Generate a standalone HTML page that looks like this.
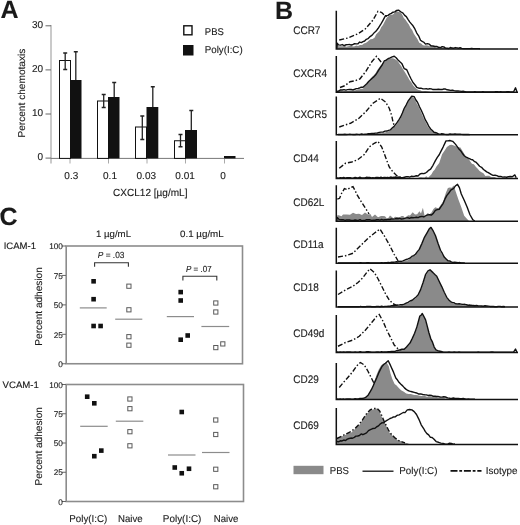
<!DOCTYPE html>
<html><head><meta charset="utf-8"><style>
html,body{margin:0;padding:0;background:#fff;}
body{width:520px;height:525px;overflow:hidden;}
svg{display:block;filter:blur(0.35px);}
text{font-family:"Liberation Sans", sans-serif;fill:#1a1a1a;stroke:#1a1a1a;stroke-width:0.12px;text-rendering:geometricPrecision;}
</style></head><body>
<svg width="520" height="525" viewBox="0 0 520 525">
<text x="0.4" y="18.4" font-size="25" font-weight="bold">A</text>
<line x1="51" y1="25" x2="51" y2="163.5" stroke="#b8b8b8" stroke-width="1.5"/>
<line x1="45.5" y1="158.1" x2="51" y2="158.1" stroke="#666" stroke-width="1"/>
<text x="43" y="159.9" font-size="10" text-anchor="end">0</text>
<line x1="45.5" y1="114" x2="51" y2="114" stroke="#666" stroke-width="1"/>
<text x="43" y="115.8" font-size="10" text-anchor="end">10</text>
<line x1="45.5" y1="69.9" x2="51" y2="69.9" stroke="#666" stroke-width="1"/>
<text x="43" y="71.7" font-size="10" text-anchor="end">20</text>
<line x1="45.5" y1="25.8" x2="51" y2="25.8" stroke="#666" stroke-width="1"/>
<text x="43" y="27.6" font-size="10" text-anchor="end">30</text>
<line x1="51" y1="158.4" x2="244" y2="158.4" stroke="#777" stroke-width="1"/>
<line x1="70" y1="158.5" x2="70" y2="163.5" stroke="#aaa" stroke-width="1"/>
<text x="71.3" y="178.7" font-size="10" text-anchor="middle">0.3</text>
<line x1="108.5" y1="158.5" x2="108.5" y2="163.5" stroke="#aaa" stroke-width="1"/>
<text x="110" y="178.7" font-size="10" text-anchor="middle">0.1</text>
<line x1="147" y1="158.5" x2="147" y2="163.5" stroke="#aaa" stroke-width="1"/>
<text x="146.3" y="178.7" font-size="10" text-anchor="middle">0.03</text>
<line x1="185.5" y1="158.5" x2="185.5" y2="163.5" stroke="#aaa" stroke-width="1"/>
<text x="185.1" y="178.7" font-size="10" text-anchor="middle">0.01</text>
<line x1="224.5" y1="158.5" x2="224.5" y2="163.5" stroke="#aaa" stroke-width="1"/>
<text x="223" y="178.7" font-size="10" text-anchor="middle">0</text>
<text x="113" y="195.8" font-size="10.3" textLength="74.5" lengthAdjust="spacingAndGlyphs">CXCL12 [µg/mL]</text>
<text transform="translate(25.1,137.6) rotate(-90)" font-size="10" textLength="89" lengthAdjust="spacingAndGlyphs">Percent chemotaxis</text>
<rect x="59.5" y="60.5" width="11" height="97.9" fill="#fff" stroke="#111" stroke-width="1"/>
<rect x="70" y="80" width="11.5" height="78.4" fill="#111"/>
<path d="M65.2 53V69.5M63.2 53H67.2M63.2 69.5H67.2" stroke="#222" stroke-width="1.3" fill="none"/>
<path d="M75.8 51.75V80M73.8 51.75H77.8" stroke="#222" stroke-width="1.3" fill="none"/>
<rect x="97.5" y="101" width="11" height="57.4" fill="#fff" stroke="#111" stroke-width="1"/>
<rect x="108" y="97" width="11.5" height="61.4" fill="#111"/>
<path d="M103.7 94.5V107.5M101.7 94.5H105.7M101.7 107.5H105.7" stroke="#222" stroke-width="1.3" fill="none"/>
<path d="M114.2 82.5V97M112.2 82.5H116.2" stroke="#222" stroke-width="1.3" fill="none"/>
<rect x="135.5" y="127" width="11" height="31.4" fill="#fff" stroke="#111" stroke-width="1"/>
<rect x="146.5" y="107" width="11.8" height="51.4" fill="#111"/>
<path d="M142.3 116V139.5M140.3 116H144.3M140.3 139.5H144.3" stroke="#222" stroke-width="1.3" fill="none"/>
<path d="M152.8 86.75V107M150.8 86.75H154.8" stroke="#222" stroke-width="1.3" fill="none"/>
<rect x="174.5" y="140.75" width="11" height="17.65" fill="#fff" stroke="#111" stroke-width="1"/>
<rect x="185" y="130" width="12" height="28.4" fill="#111"/>
<path d="M180.5 134.5V146.75M178.5 134.5H182.5M178.5 146.75H182.5" stroke="#222" stroke-width="1.3" fill="none"/>
<path d="M191.3 110.5V130M189.3 110.5H193.3" stroke="#222" stroke-width="1.3" fill="none"/>
<rect x="224" y="156" width="11.5" height="2.4" fill="#111"/>
<rect x="183.8" y="25.8" width="8.2" height="9" fill="#fff" stroke="#111" stroke-width="1.4"/>
<rect x="183" y="45" width="10.5" height="10.5" fill="#111"/>
<text x="204.8" y="35" font-size="9.8" textLength="19" lengthAdjust="spacingAndGlyphs">PBS</text>
<text x="204.7" y="52.6" font-size="10" textLength="38" lengthAdjust="spacingAndGlyphs">Poly(I:C)</text>
<text x="-0.4" y="224.5" font-size="25" font-weight="bold">C</text>
<text x="96" y="237.4" font-size="9.4" textLength="35" lengthAdjust="spacingAndGlyphs">1 µg/mL</text>
<text x="180" y="237.4" font-size="9.4" textLength="43.7" lengthAdjust="spacingAndGlyphs">0.1 µg/mL</text>
<rect x="66.2" y="246" width="176.3" height="117.75" fill="none" stroke="#8c8c8c" stroke-width="1.6"/>
<line x1="61.8" y1="246" x2="66" y2="246" stroke="#666" stroke-width="1"/>
<text x="62.9" y="249.2" font-size="8.2" text-anchor="end">100</text>
<line x1="61.8" y1="275.44" x2="66" y2="275.44" stroke="#666" stroke-width="1"/>
<text x="62.9" y="278.64" font-size="8.2" text-anchor="end">75</text>
<line x1="61.8" y1="304.88" x2="66" y2="304.88" stroke="#666" stroke-width="1"/>
<text x="62.9" y="308.07" font-size="8.2" text-anchor="end">50</text>
<line x1="61.8" y1="334.31" x2="66" y2="334.31" stroke="#666" stroke-width="1"/>
<text x="62.9" y="337.51" font-size="8.2" text-anchor="end">25</text>
<line x1="61.8" y1="363.75" x2="66" y2="363.75" stroke="#666" stroke-width="1"/>
<text x="62.9" y="366.95" font-size="8.2" text-anchor="end">0</text>
<text x="3.7" y="249.3" font-size="9.3" textLength="32.4" lengthAdjust="spacingAndGlyphs">ICAM-1</text>
<text transform="translate(42,306.4) rotate(-90)" font-size="10" text-anchor="middle" textLength="78.5" lengthAdjust="spacingAndGlyphs">Percent adhesion</text>
<rect x="66.2" y="384.5" width="177.3" height="117" fill="none" stroke="#8c8c8c" stroke-width="1.6"/>
<line x1="61.8" y1="384.5" x2="66" y2="384.5" stroke="#666" stroke-width="1"/>
<text x="62.9" y="387.7" font-size="8.2" text-anchor="end">100</text>
<line x1="61.8" y1="413.75" x2="66" y2="413.75" stroke="#666" stroke-width="1"/>
<text x="62.9" y="416.95" font-size="8.2" text-anchor="end">75</text>
<line x1="61.8" y1="443" x2="66" y2="443" stroke="#666" stroke-width="1"/>
<text x="62.9" y="446.2" font-size="8.2" text-anchor="end">50</text>
<line x1="61.8" y1="472.25" x2="66" y2="472.25" stroke="#666" stroke-width="1"/>
<text x="62.9" y="475.45" font-size="8.2" text-anchor="end">25</text>
<line x1="61.8" y1="501.5" x2="66" y2="501.5" stroke="#666" stroke-width="1"/>
<text x="62.9" y="504.7" font-size="8.2" text-anchor="end">0</text>
<text x="2.5" y="388.3" font-size="9.3" textLength="36.4" lengthAdjust="spacingAndGlyphs">VCAM-1</text>
<text transform="translate(42,446.3) rotate(-90)" font-size="10" text-anchor="middle" textLength="78.5" lengthAdjust="spacingAndGlyphs">Percent adhesion</text>
<rect x="91.3" y="279" width="4.6" height="4.6" fill="#111"/>
<rect x="91.3" y="296.9" width="4.6" height="4.6" fill="#111"/>
<rect x="91.3" y="323.7" width="4.6" height="4.6" fill="#111"/>
<rect x="98.3" y="323.7" width="4.6" height="4.6" fill="#111"/>
<rect x="126.8" y="284.1" width="4.2" height="4.2" fill="#fff" stroke="#5a5a5a" stroke-width="1"/>
<rect x="126.8" y="307.7" width="4.2" height="4.2" fill="#fff" stroke="#5a5a5a" stroke-width="1"/>
<rect x="126.8" y="334.6" width="4.2" height="4.2" fill="#fff" stroke="#5a5a5a" stroke-width="1"/>
<rect x="126.8" y="343.1" width="4.2" height="4.2" fill="#fff" stroke="#5a5a5a" stroke-width="1"/>
<line x1="79.8" y1="307.9" x2="106.7" y2="307.9" stroke="#8c8c8c" stroke-width="1.2"/>
<line x1="115.2" y1="319.2" x2="142.3" y2="319.2" stroke="#8c8c8c" stroke-width="1.2"/>
<rect x="178.4" y="289.8" width="4.6" height="4.6" fill="#111"/>
<rect x="178.4" y="298.2" width="4.6" height="4.6" fill="#111"/>
<rect x="178.4" y="337.4" width="4.6" height="4.6" fill="#111"/>
<rect x="185.4" y="333.2" width="4.6" height="4.6" fill="#111"/>
<rect x="213.7" y="300.9" width="4.2" height="4.2" fill="#fff" stroke="#5a5a5a" stroke-width="1"/>
<rect x="213.7" y="309.9" width="4.2" height="4.2" fill="#fff" stroke="#5a5a5a" stroke-width="1"/>
<rect x="213.7" y="345.5" width="4.2" height="4.2" fill="#fff" stroke="#5a5a5a" stroke-width="1"/>
<rect x="220.7" y="341.8" width="4.2" height="4.2" fill="#fff" stroke="#5a5a5a" stroke-width="1"/>
<line x1="166.8" y1="316.6" x2="194" y2="316.6" stroke="#8c8c8c" stroke-width="1.2"/>
<line x1="201.4" y1="326.5" x2="229.2" y2="326.5" stroke="#8c8c8c" stroke-width="1.2"/>
<text x="97.8" y="258.3" font-size="8.8" textLength="26.6" lengthAdjust="spacingAndGlyphs"><tspan font-style="italic">P</tspan> = .03</text>
<path d="M94.6 266.8V262.8H128.4V266.8" stroke="#333" stroke-width="1.1" fill="none"/>
<text x="186" y="271.8" font-size="8.8" textLength="25.6" lengthAdjust="spacingAndGlyphs"><tspan font-style="italic">P</tspan> = .07</text>
<path d="M182.9 280.5V276.2H216.8V280.5" stroke="#333" stroke-width="1.1" fill="none"/>
<rect x="84.9" y="394.4" width="4.6" height="4.6" fill="#111"/>
<rect x="92" y="401" width="4.6" height="4.6" fill="#111"/>
<rect x="92" y="453.9" width="4.6" height="4.6" fill="#111"/>
<rect x="99" y="448.3" width="4.6" height="4.6" fill="#111"/>
<rect x="127.8" y="396.9" width="4.2" height="4.2" fill="#fff" stroke="#5a5a5a" stroke-width="1"/>
<rect x="127.8" y="406.6" width="4.2" height="4.2" fill="#fff" stroke="#5a5a5a" stroke-width="1"/>
<rect x="127.8" y="429.6" width="4.2" height="4.2" fill="#fff" stroke="#5a5a5a" stroke-width="1"/>
<rect x="127.8" y="443.7" width="4.2" height="4.2" fill="#fff" stroke="#5a5a5a" stroke-width="1"/>
<line x1="80.2" y1="426.3" x2="107.7" y2="426.3" stroke="#8c8c8c" stroke-width="1.2"/>
<line x1="115.8" y1="421.2" x2="143.3" y2="421.2" stroke="#8c8c8c" stroke-width="1.2"/>
<rect x="179.45" y="409.7" width="4.6" height="4.6" fill="#111"/>
<rect x="172.45" y="465.2" width="4.6" height="4.6" fill="#111"/>
<rect x="179.45" y="470.95" width="4.6" height="4.6" fill="#111"/>
<rect x="186.7" y="466.45" width="4.6" height="4.6" fill="#111"/>
<rect x="213.65" y="417.9" width="4.2" height="4.2" fill="#fff" stroke="#5a5a5a" stroke-width="1"/>
<rect x="213.65" y="432.4" width="4.2" height="4.2" fill="#fff" stroke="#5a5a5a" stroke-width="1"/>
<rect x="213.65" y="467.15" width="4.2" height="4.2" fill="#fff" stroke="#5a5a5a" stroke-width="1"/>
<rect x="213.65" y="484.65" width="4.2" height="4.2" fill="#fff" stroke="#5a5a5a" stroke-width="1"/>
<line x1="168" y1="455" x2="195.5" y2="455" stroke="#8c8c8c" stroke-width="1.2"/>
<line x1="202" y1="452.5" x2="229.5" y2="452.5" stroke="#8c8c8c" stroke-width="1.2"/>
<text x="69.3" y="522.3" font-size="10" textLength="38" lengthAdjust="spacingAndGlyphs">Poly(I:C)</text>
<text x="118" y="522.3" font-size="10" textLength="24.6" lengthAdjust="spacingAndGlyphs">Naive</text>
<text x="162.8" y="522.3" font-size="10" textLength="38.6" lengthAdjust="spacingAndGlyphs">Poly(I:C)</text>
<text x="213.8" y="522.3" font-size="10" textLength="24.6" lengthAdjust="spacingAndGlyphs">Naive</text>
<text x="275.1" y="18.6" font-size="25" font-weight="bold">B</text>
<text transform="translate(293.2,34.1) scale(1,1.1)" font-size="10">CCR7</text>
<polyline points="339.25,40 348,38 358,33.75 365.5,28.75 373,20 378,11.25 381.75,12.5 384.25,15 388,17 394,25 400,35 406,43 412,47" fill="none" stroke="#111" stroke-width="1.4" stroke-dasharray="5 2 1.5 2"/>
<polygon points="336.8,48.9 336.8,48.6 337.2,42.96 338.5,46.14 341.5,46.22 343.12,46.28 344.75,45.66 346.38,46.76 348,46.33 349.67,46.04 351.33,45.83 353,46.49 354.67,46.29 356.33,45.44 358,46 360,44.96 362,44.91 364,43.52 365.62,43.08 367.25,41.98 368.88,40.55 370.5,39.37 372.5,39.11 374.5,37.66 376.25,34.22 378,32.42 379.67,30.64 381.33,27.06 383,24.89 384.88,21.32 386.75,17.74 388.38,16.19 390,15.04 393,14.43 394.88,12.42 396.75,10.88 398.62,11.94 400.5,12.26 402.17,14.52 403.83,17.88 405.5,19.79 407.17,22.29 408.83,24.41 410.5,28.1 412.17,30.05 413.83,33.87 415.5,36.21 417.38,39.01 419.25,42.64 421.12,43.61 423,45.36 424.67,45.55 426.33,45.16 428,45.61 429.67,46.26 431.33,46.09 433,46.37 434.71,47.06 436.43,47.62 438.14,47.76 439.86,48.38 441.57,47.68 443.29,48.03 445,48.29 446.67,48.3 448.33,48.6 450,48.48 451.67,48.55 453.33,48.39 455,48.8 455,48.9" fill="#8a8a8a"/>
<polyline points="336.8,48.6 337.2,43.11 338.5,44.84 340.4,45.18 342.3,44.57 344.2,45.53 346.1,44.74 348,44.63 349.67,44.56 351.33,45 353,44.46 354.67,43.74 356.33,43.9 358,43.78 359.67,42.07 361.33,42.56 363,41.57 364.67,41.01 366.33,39.28 368,38.63 370.08,36.58 372.17,35.14 374.25,32.67 376.12,31.05 378,28.54 380.5,24.74 383,20.31 385.5,15.69 388,15.32 389.67,14.18 391.33,13.37 393,12.19 394.83,11.86 396.67,10.37 398.5,10.13 400.75,11.76 403,13.08 404.67,15.35 406.33,16.62 408,19.36 409.67,21.83 411.33,23.83 413,25.8 414.88,28.92 416.75,33.03 418.62,35.79 420.5,40.22 422.17,41.34 423.83,42.26 425.5,44.13 427.38,43.59 429.25,44.14 431.12,45.87 433,46 434.88,46.49 436.75,46.5 438.62,47.3 440.5,47.63 442.17,46.63 443.83,46.95 445.5,48.1 447.17,48.29 448.83,48.47 450.5,47.52 452.11,48.07 453.72,48.2 455.33,47.57 456.94,47.83 458.56,48.2 460.17,47.74 461.78,48.37 463.39,48.6 465,48.6 466.67,48.6 468.33,48.6 470,48.6 471.67,48.32 473.33,48.6 475,48.6 476.67,48.6 478.33,48.6 480,48.8" fill="none" stroke="#111" stroke-width="1.4" stroke-linejoin="round"/>
<path d="M336.3 10.8V48.9H518" fill="none" stroke="#111" stroke-width="1.5"/>
<text transform="translate(293.2,76.9) scale(1,1.1)" font-size="10">CXCR4</text>
<polyline points="340,87.5 345,85.6 350,81.7 355,80.8 360,78.8 363,75 366,71.2 369,66.3 372,61.5 376.5,56.3 380.5,61.3 384,66 388,75 394,86 400,91" fill="none" stroke="#111" stroke-width="1.4" stroke-dasharray="5 2 1.5 2"/>
<polygon points="338,92.3 338,91.5 339.67,91.12 341.33,91.1 343,91.13 344.67,91.06 346.33,90.65 348,91.1 349.67,90.78 351.33,90.55 353,90.35 354.67,90.41 356.33,90.03 358,89.33 359.67,89.33 361.33,88.86 363,88.87 364.88,86.07 366.75,83.92 368.62,81.43 370.5,78.77 372.17,76.69 373.83,75.31 375.5,73.33 377.17,70.23 378.83,67.96 380.5,65.82 382.17,63.62 383.83,62.11 385.5,60.54 387.38,59.87 389.25,58.85 391.12,58.17 393,58.14 394.67,59 396.33,60.08 398,61.53 399.67,63.88 401.33,66.26 403,69.19 404.67,71.73 406.33,74.56 408,77.21 409.67,80.3 411.33,82.32 413,85.27 414.88,87.13 416.75,89.12 418.5,89.94 420.25,90.36 422,91.18 423.6,91.27 425.2,91.07 426.8,91.29 428.4,91.61 430,91.8 430,92.3" fill="#8a8a8a"/>
<polyline points="337,91.5 338.75,91.05 340.5,89.92 342.29,90.04 344.07,89.68 345.86,90.11 347.64,89.67 349.43,89.56 351.21,89.56 353,89.82 354.67,89.24 356.33,88.57 358,88.34 359.67,87.97 361.33,87.08 363,87.28 364.88,85.41 366.75,83.75 368.62,81.51 370.5,79.81 372.17,78.21 373.83,76.9 375.5,75.09 377.17,72.71 378.83,69.89 380.5,67.37 382.38,64.53 384.25,60.97 386.12,60.16 388,58.75 390.08,57.93 392.17,56.93 394.25,56.29 396.12,57.79 398,59.92 399.88,61.74 401.75,63.42 404.25,68.72 406.75,69.77 409.25,75.31 411.12,79.04 413,82.54 414.88,84.78 416.75,87.27 418.83,88.18 420.92,88.1 423,88.86 424.67,88.88 426.33,88.8 428,89.19 429.67,88.75 431.33,88.86 433,89.56 434.79,89.38 436.57,89.46 438.36,89.31 440.14,89.56 441.93,89.57 443.71,88.98 445.5,89.06 447.17,89.8 448.83,90.06 450.5,90.32 452.38,90.07 454.25,90.62 456.12,90.97 458,90.94 459.71,91.14 461.43,91.4 463.14,91.24 464.86,91.63 466.57,92 468.29,91.89 470,92 471.61,92 473.22,92 474.83,91.82 476.44,92 478.06,92 479.67,92 481.28,92 482.89,91.69 484.5,91.83 486.11,91.96 487.72,92 489.33,92 490.94,92 492.56,92 494.17,92 495.78,91.76 497.39,91.73 499,92 500.61,91.81 502.22,92 503.83,91.84 505.44,91.88 507.06,91.78 508.67,91.82 510.28,92 511.89,92 513.5,92 515.5,87.82 517,92" fill="none" stroke="#111" stroke-width="1.4" stroke-linejoin="round"/>
<path d="M336.3 56V92.3H518" fill="none" stroke="#111" stroke-width="1.5"/>
<text transform="translate(293.2,117.9) scale(1,1.1)" font-size="10">CXCR5</text>
<polyline points="339.25,127 345,125 350.5,123.25 358,119 365.5,112 373,103.25 380.5,98.25 385.5,102 389.25,108.25 391.75,115.75 393,122 395,128 398,132" fill="none" stroke="#111" stroke-width="1.4" stroke-dasharray="5 2 1.5 2"/>
<polygon points="372,134.8 372,134.5 373.67,133.9 375.33,133.65 377,133.46 378.6,133.3 380.2,132.8 381.8,133.17 383.4,132.76 385,132.44 386.83,131.68 388.67,131.36 390.5,130.61 392.17,128.7 393.83,127.5 395.5,125.81 397.17,123.62 398.83,120.76 400.5,118.54 402.38,113.99 404.25,109.27 406.12,105.44 408,102.31 409.88,100.08 411.75,97.23 414.25,98.21 416.75,103.57 418.62,106.78 420.5,110.69 422.38,115.16 424.25,119.62 426.12,123.1 428,126.77 429.67,129.01 431.33,130.3 433,131.81 434.67,132.63 436.33,133.08 438,133.56 439.75,134.17 441.5,134.05 443.25,134.22 445,134.5 445,134.8" fill="#8a8a8a"/>
<polyline points="338,134.5 339.69,134.5 341.38,134.39 343.08,134.5 344.77,134.27 346.46,134.5 348.15,134.36 349.85,134.31 351.54,134.36 353.23,134.5 354.92,134.5 356.62,134.23 358.31,134.41 360,134.44 361.67,133.88 363.33,134.41 365,134.21 366.67,134.22 368.33,133.65 370,133.61 371.83,133.41 373.67,133.5 375.5,133.09 377.38,132.96 379.25,132.39 381.12,132.12 383,132.16 384.88,131.17 386.75,131.06 388.62,130.35 390.5,129.82 392.17,128.04 393.83,126.64 395.5,124.67 397.17,122.42 398.83,119.87 400.5,117.17 402.38,112.97 404.25,108.27 406.12,105.06 408,101.29 409.88,98.79 411.75,96.28 414.25,96.77 415.88,100.02 417.5,102.27 419.5,106.73 421.5,110.8 423.38,115.01 425.25,119.69 427.12,122.92 429,126.7 430.67,128.98 432.33,130.46 434,132.21 436,132.73 438,133.64 440,134.32 441.67,133.76 443.33,133.88 445,134.4 446.67,134.45 448.33,134.49 450,133.96 451.67,134.23 453.33,134.3 455,133.99 456.67,134.11 458.33,134.3 460,134.07 461.67,134.38 463.33,134.5 465,134.5 466.67,134.5 468.33,134.5 470,134.6" fill="none" stroke="#111" stroke-width="1.4" stroke-linejoin="round"/>
<path d="M336.3 96.5V134.8H518" fill="none" stroke="#111" stroke-width="1.5"/>
<text transform="translate(293.2,161.9) scale(1,1.1)" font-size="10">CD44</text>
<polyline points="339.25,168.25 345.5,163.25 351.75,162 358,159.5 364.25,154.5 369.25,147 374.25,143.25 378,141.5 381.75,147 385.5,157 389.25,167 393,172 396.75,175.75 400.5,177" fill="none" stroke="#111" stroke-width="1.4" stroke-dasharray="5 2 1.5 2"/>
<polygon points="418,178.4 418,178.1 419.67,177.23 421.33,177.29 423,177.49 424.67,177.41 426.33,176.36 428,177.76 429.75,175.93 431.5,174.32 433,171.57 434.65,169.81 436.3,166.81 439.2,163.05 442.1,154.3 445,149.97 446.9,146.94 449.8,145.02 451.7,144.82 454.6,145.67 457.5,146.95 460.4,147.6 463.3,152.28 466.2,157.14 468.1,157.84 470,160.89 471.9,163.86 473.8,164.28 475.75,166.64 477.7,168.8 479.6,170.99 481.5,172.16 483.45,173.19 485.4,176.07 487.3,175.64 489.2,175.87 491.15,176.99 493.1,177.06 494.73,176.94 496.37,178.1 498,178.1 498,178.4" fill="#8a8a8a"/>
<polyline points="337,178 338.75,178.1 340.5,177.63 342.12,177.9 343.74,177.49 345.35,178.1 346.97,177.65 348.59,177.59 350.21,177.69 351.82,178.1 353.44,177.91 355.06,177.55 356.68,177.81 358.29,177.87 359.91,177.18 361.53,178.05 363.15,177.88 364.76,178 366.38,177.29 368,177.36 369.62,177.44 371.24,177.95 372.85,177.73 374.47,177.9 376.09,177.44 377.71,177.4 379.32,177.8 380.94,177.17 382.56,177.79 384.18,177.56 385.79,177.57 387.41,177.32 389.03,177.59 390.65,177.05 392.26,177.4 393.88,177.32 395.5,177.02 397.29,177.38 399.07,177.03 400.86,177.72 402.64,177.63 404.43,177.2 406.21,176.75 408,176.67 409.67,177.17 411.33,176.26 413,176.53 414.67,176.23 416.33,175.79 418,176.02 420,174.03 421.93,173.43 423.87,173.68 425.8,172.78 427.4,171.6 429,170.09 430.6,169.14 433,165.3 435.4,160.62 437.3,157.38 439.2,154.73 441.15,150.9 443.1,147.06 446,140.86 447.9,140.85 449.8,140.54 452.7,141.35 455.6,144.39 458.5,148.41 460.4,150.43 462.3,153.23 464.25,155.71 466.2,157.2 467.8,157.97 469.4,158.59 471,159.48 472.6,159.8 474.2,161.35 475.8,162.1 477.7,164.04 479.6,166.25 481.55,167.31 483.5,169.46 485.1,170.61 486.7,171.83 488.3,172.62 489.9,173.64 491.5,174.67 493.1,175.43 495,175.2 496.9,175.58 498.8,176.51 500.73,176.38 502.65,177.13 504.57,176.92 506.5,177.22 508.43,176.75 510.37,176.48 512.3,176.76 514.8,174.88 516.2,177.8" fill="none" stroke="#111" stroke-width="1.4" stroke-linejoin="round"/>
<path d="M336.3 141V178.4H518" fill="none" stroke="#111" stroke-width="1.5"/>
<text transform="translate(293.2,206.4) scale(1,1.1)" font-size="10">CD62L</text>
<polyline points="337.3,199.2 339.6,198.3 341.5,193.5 344.4,188.7 347.3,189.6 350.2,187.7 353,186.7 354.6,189.6 356.9,194.4 359.8,199.2 362.7,204 364.6,206.9 366.5,209.8 369,214" fill="none" stroke="#111" stroke-width="1.4" stroke-dasharray="5 2 1.5 2"/>
<polygon points="336.5,221.3 336.5,221 337.5,215 339.5,215.58 341.5,216.35 343,214.52 345,214.4 347,214.49 350,214.73 353,212.77 356,213.94 359,213.73 362,214.91 365,212.4 368,214.5 370.4,213.91 372,216.95 375,214.61 378,217.16 381,215.97 383,215.91 385,216.33 386.67,218.31 388.33,218.06 390,215.51 391.67,216.69 393.33,218.35 395,216.69 396.67,216.96 398.33,216.96 400,216.95 401.67,216.1 403.33,215.98 405,218.26 406.67,216.36 408.33,215.3 410,215.62 412.7,212.26 415,214.6 417.2,214.31 419.4,211.31 421,213.61 422.9,207.71 424.8,216.71 427.7,213.02 429.6,214.2 431.5,212.62 433.45,209.11 435.4,207.17 438.3,208.54 440.2,205.67 443.1,201.6 446,192.55 447.9,187.98 449.8,187.57 451.7,187.63 453.7,185.52 455.6,191.27 458.5,199.67 461.3,207.28 464.2,215.78 467.1,218.94 469,221 469,221.3" fill="#8a8a8a"/>
<polyline points="336.5,221 337.2,217.43 339,219.38 341,219.82 343,219.59 345,220.46 346.67,219.95 348.33,219.92 350,220.05 351.67,220.54 353.33,220.33 355,220 356.67,220.29 358.33,220.38 360,219.72 361.67,220.57 363.33,220.37 365,220.46 366.67,219.73 368.33,219.77 370,219.82 371.67,220.32 373.33,220.08 375,220.23 376.67,219.76 378.33,219.71 380,220.09 381.67,219.45 383.33,220.05 385,219.81 386.64,219.71 388.27,219.34 389.91,219.51 391.55,218.85 393.18,219.09 394.82,218.9 396.45,218.5 398.09,218.81 399.73,218.41 401.36,219.06 403,218.91 404.66,218.41 406.31,217.9 407.97,217.75 409.63,218.31 411.29,217.46 412.94,217.8 414.6,217.57 416.4,217.23 418.2,217.57 420,216.73 421.9,216.42 423.8,216.95 425.75,215.73 427.7,214.9 429.6,214.69 431.5,215.04 433.45,213.15 435.4,210.42 437.3,209.53 439.2,209.23 441.15,206.4 443.1,203.56 445,198.91 446.9,195.4 448.85,193.04 450.8,190.15 453.7,188.39 455.6,185.71 457.5,184.33 459.4,187.63 461.3,193.96 464.2,200.2 467.1,207.04 470,214.73 472.9,219.78 474.8,221" fill="none" stroke="#111" stroke-width="1.4" stroke-linejoin="round"/>
<path d="M336.3 185.3V221.3H518" fill="none" stroke="#111" stroke-width="1.5"/>
<text transform="translate(293.2,247.9) scale(1,1.1)" font-size="10">CD11a</text>
<polyline points="338,257 345.5,255.75 353,253.25 360.5,245.75 368,238.25 374.25,233.25 380,229 384.25,235.75 389.25,244.5 394.25,254.5 398,260.75 402,263" fill="none" stroke="#111" stroke-width="1.4" stroke-dasharray="5 2 1.5 2"/>
<polygon points="398,263.3 398,263 399.67,262.23 401.33,261.82 403,261.46 404.67,261 406.33,260.2 408,260.27 409.88,258.81 411.75,257.44 413.62,256.1 415.5,255.2 417.38,252.61 419.25,249.7 421.75,245 424.25,238.56 426.75,233.87 429.25,229.26 431,228.04 433,231.24 435.5,236.02 438,243.44 440.5,251.56 442.38,254.7 444.25,257.23 446.12,259.21 448,261.32 449.67,261.38 451.33,262.14 453,262.8 453,263.3" fill="#8a8a8a"/>
<polyline points="338,263 339.62,263 341.23,262.92 342.85,263 344.46,262.83 346.08,263 347.69,262.95 349.31,262.91 350.92,262.99 352.54,263 354.15,263 355.77,262.9 357.38,263 359,263 360.62,262.66 362.23,263 363.85,263 365.46,263 367.08,262.76 368.69,262.81 370.31,262.87 371.92,263 373.54,263 375.15,263 376.77,262.89 378.38,262.87 380,263 381.67,262.66 383.33,263 385,262.8 386.67,262.75 388.33,262.51 390,262.64 391.6,262.15 393.2,262.28 394.8,262.11 396.4,261.79 398,261.97 399.67,261.3 401.33,261.37 403,260.89 404.67,260.17 406.33,259.44 408,258.97 409.88,258.22 411.75,256.47 413.62,255.56 415.5,254.25 417.38,251.58 419.25,249.39 421.75,243.87 424.25,237.7 426.75,233.31 429.25,228.83 431,227.41 433,230.56 435.5,235.81 438,243.32 440.5,250.23 442.38,253.46 444.25,257.1 446.12,258.96 448,260.82 449.67,260.93 451.33,261.83 453,262.53 454.71,262.29 456.43,262.48 458.14,262.74 459.86,262.57 461.57,262.95 463.29,263 465,263.2" fill="none" stroke="#111" stroke-width="1.4" stroke-linejoin="round"/>
<path d="M336.3 227.7V263.3H518" fill="none" stroke="#111" stroke-width="1.5"/>
<text transform="translate(293.2,291.4) scale(1,1.1)" font-size="10">CD18</text>
<polyline points="338,294.5 345.5,290 353,286.25 358,282.5 363,277.5 366.75,272.5 370,268.75 374.25,272.5 378,278.75 381.75,286.25 385.5,293.75 389.25,300 393,303.75 398,306" fill="none" stroke="#111" stroke-width="1.4" stroke-dasharray="5 2 1.5 2"/>
<polygon points="398,307.1 398,306.5 399.67,305.65 401.33,305.15 403,304.71 404.67,304.17 406.33,303.29 408,303.27 410.08,301.9 412.17,300.6 414.25,299.35 416.12,297.95 418,296.11 420.5,290.7 423,283.5 425.5,275.81 428,272.12 430,270.06 433,273.24 434.88,275.09 436.75,276.77 439.25,281.69 441.75,287.31 444.25,293.53 446.75,297.93 448.62,300.06 450.5,302.32 452.17,302.55 453.83,303.48 455.5,304.34 457.38,304.65 459.25,304.6 461.12,304.74 463,305.54 464.71,305.28 466.43,305.24 468.14,305.58 469.86,305.54 471.57,305.53 473.29,306.08 475,305.9 476.67,305.98 478.33,305.88 480,306.57 481.67,306.17 483.33,306.71 485,306.51 486.67,306.44 488.33,306.78 490,306.8 490,307.1" fill="#8a8a8a"/>
<polyline points="338,306.8 339.62,306.8 341.23,306.7 342.85,306.8 344.46,306.6 346.08,306.8 347.69,306.71 349.31,306.66 350.92,306.73 352.54,306.8 354.15,306.8 355.77,306.62 357.38,306.8 359,306.8 360.62,306.35 362.23,306.8 363.85,306.8 365.46,306.8 367.08,306.43 368.69,306.47 370.31,306.52 371.92,306.8 373.54,306.72 375.15,306.8 376.77,306.51 378.38,306.48 380,306.76 381.67,306.26 383.33,306.63 385,306.4 386.67,306.35 388.33,306.11 390,306.24 391.75,305.67 393.5,305.72 395.25,305.47 397,305.07 398.75,305.17 400.5,304.77 402.38,304.68 404.25,304.04 406.12,303.16 408,302.28 410.08,301.02 412.17,300.27 414.25,298.52 416.12,296.98 418,295.05 420.5,289.88 423,282.69 425.5,274.67 428,270.95 430,269.81 433,272.63 434.88,274.59 436.75,276.31 439.25,281.56 441.75,286.57 444.25,292.23 446.75,297.31 448.62,299.68 450.5,301.56 452.17,302.4 453.83,302.68 455.5,303.75 457.38,303.97 459.25,303.81 461.12,304.09 463,304.44 464.71,304.31 466.43,304.74 468.14,305.25 469.86,305.07 471.57,305.31 473.29,305.45 475,305.77 476.67,305.4 478.33,305.9 480,305.84 481.67,305.95 483.33,306.26 485,305.73 486.67,305.95 488.33,306.17 490,306.43 491.67,306.37 493.33,306.55 495,306.75 496.67,306.75 498.33,306.34 500,306.36 501.67,306.76 503.33,306.55 505,306.8" fill="none" stroke="#111" stroke-width="1.4" stroke-linejoin="round"/>
<path d="M336.3 270.5V307.1H518" fill="none" stroke="#111" stroke-width="1.5"/>
<text transform="translate(293.2,336.8) scale(1,1.1)" font-size="10">CD49d</text>
<polyline points="338,346.25 345.5,342.5 353,340 359.25,336.25 365.5,330 371.75,322.5 376.75,316.25 379.25,314.5 383,321.25 386.75,330 390.5,337.5 394.25,345 398,348.75 402,351" fill="none" stroke="#111" stroke-width="1.4" stroke-dasharray="5 2 1.5 2"/>
<polygon points="395,352.5 395,352.1 397.3,351.08 399.6,350.42 401.9,350.06 404.2,349.6 406.5,347.1 408.25,345.97 410,344.06 412.3,339.24 414.6,333.45 416.9,328 418.7,321.01 419.8,316.5 421,316.3 422.3,314.01 423.8,317.52 425.6,320.66 427.3,326.74 429,333.59 430.8,339.07 432.5,342.49 434.2,347.51 436,350.33 438.8,351.53 441.15,352.06 443.5,352.4 443.5,352.5" fill="#8a8a8a"/>
<polyline points="337,352 338.65,352.2 340.31,351.92 341.96,352.11 343.62,351.83 345.27,352.2 346.92,351.95 348.58,351.91 350.23,351.99 351.88,352.2 353.54,352.15 355.19,351.9 356.85,352.09 358.5,352.14 360.15,351.66 361.81,352.2 363.46,352.16 365.12,352.2 366.77,351.76 368.42,351.81 370.08,351.87 371.73,352.2 373.38,352.09 375.04,352.2 376.69,351.89 378.35,351.87 380,352.16 381.67,351.68 383.33,352.07 385,351.87 386.67,351.84 388.33,351.62 390,351.78 391.67,351.36 393.33,351.56 395,351.47 397.3,350.47 399.6,349.97 401.9,349.27 404.2,349.31 406.5,346.99 408.25,345.04 410,343.08 412.3,338.37 414.6,333.17 416.9,326.87 418.7,320.31 419.8,316.15 421,315.48 422.3,313.49 423.8,316.37 425.6,319.9 427.3,326.31 429,333.03 430.8,338.81 432.5,342.16 434.2,347.01 436,349.92 438.8,351.03 441.15,351.46 443.5,352.2 445.34,352.2 447.18,352.2 449.02,351.94 450.86,352.2 452.7,352.2 454.3,351.99 455.9,352.08 457.5,352.2 459.1,351.97 460.7,352.2 462.3,352.2 463.9,352.2 465.5,352.2 467.1,352.2 468.7,352.2 470.3,352.12 471.9,352.2 473.5,352.2 475.1,352.2 476.7,352.2 478.3,351.99 479.9,352.13 481.5,352.2 483.1,352.2 484.7,352.2 486.3,352.2 487.9,352.2 489.5,352.2 491.1,352.06 492.7,352.03 494.3,352.2 495.9,352.11 497.5,352.2 499.1,352.14 500.7,352.18 502.3,352.08 503.9,352.12 505.5,352.2 507.1,352.2 508.7,352.2 510.3,352.12 511.9,352.12 513.5,352.2 515.5,349.09 517,352.3" fill="none" stroke="#111" stroke-width="1.4" stroke-linejoin="round"/>
<path d="M336.3 315V352.5H518" fill="none" stroke="#111" stroke-width="1.5"/>
<text transform="translate(293.2,382.9) scale(1,1.1)" font-size="10">CD29</text>
<polyline points="339.25,387.5 343,383 346.75,378.75 350,375 353,371.25 356,367 358,364.5 360.5,362.5 364.25,365 368,371.25 371.75,378.75 374.25,383.75 377,389 381,395" fill="none" stroke="#111" stroke-width="1.4" stroke-dasharray="5 2 1.5 2"/>
<polygon points="362.3,399.6 362.3,399.3 364.6,397.68 366.9,396.32 368.65,394.16 370.4,391.9 372.1,387 373.8,382.97 376.2,375.86 378.5,369.94 381.2,365.25 384.2,363.3 386.5,362.51 388.8,366.2 390.5,373.5 392.3,379.01 394.6,383.92 396.35,385.31 398.1,387.34 399.8,389.04 401.5,390.57 403.85,391.64 406.2,393.41 408.5,393.98 410.8,393.93 412.52,394.46 414.25,395.12 415.98,394.88 417.7,395.34 419.54,395.66 421.38,395.96 423.22,395.91 425.06,396.05 426.9,396.84 428.76,396.6 430.62,396.59 432.48,396.95 434.34,396.94 436.2,396.96 438.04,397.59 439.88,397.5 441.72,397.7 443.56,397.71 445.4,398.5 447,398.18 448.6,398.8 450.2,398.68 451.8,398.68 453.4,399.11 455,399.2 455,399.6" fill="#8a8a8a"/>
<polyline points="337,399 338.62,399.3 340.25,398.92 341.88,399.11 343.5,398.83 345.12,399.3 346.75,398.95 348.38,398.91 350,398.99 351.67,399.28 353.33,399.09 355,398.8 356.67,398.96 358.33,398.97 360,398.46 362.3,398.53 364.6,397.86 366.35,396.8 368.1,395.16 369.8,392.31 371.5,389.47 373.25,385.79 375,381.59 376.75,377.71 378.5,373.39 380.2,369.87 381.9,366.66 383.65,364.52 385.4,363.26 388.2,360.8 390.5,365.42 393.5,372.14 395.8,378.04 397.5,380.02 399.2,382.62 400.95,384.32 402.7,385.87 404.45,387.87 406.2,389.37 407.9,390.51 409.6,391.09 411.9,391.74 414.2,392.38 416.5,392.97 418.8,394.07 420.73,393.87 422.67,394.51 424.6,394.75 426.33,394.86 428.05,395.44 429.77,395.19 431.5,395.5 433.25,396.29 435,396.28 436.75,396.54 438.5,396.56 440.23,396.98 441.95,397.17 443.67,396.76 445.4,397.01 447.7,397.85 450,398.21 451.67,398.37 453.33,397.96 455,398.35 456.67,398.53 458.33,398.34 460,398.58 461.67,398.78 463.33,398.56 465,398.88 466.67,399.3 468.33,399.02 470,399.16 471.67,399.2 473.33,399.3 475,399.2" fill="none" stroke="#111" stroke-width="1.4" stroke-linejoin="round"/>
<path d="M336.3 362.9V399.6H518" fill="none" stroke="#111" stroke-width="1.5"/>
<text transform="translate(293.2,428.9) scale(1,1.1)" font-size="10">CD69</text>
<polygon points="336.9,444.4 336.9,439.2 339.2,437.43 341.5,436.49 343.85,435.66 346.2,434.61 348.5,432.78 350.8,432.91 353.1,430.69 355.4,428.66 357.1,426.76 358.8,425.85 360.55,423.35 362.3,420.12 364.6,417.3 366.9,413.38 368.65,412.38 370.4,409.85 372.1,409.9 373.8,409.18 375.55,408.68 377.3,408.48 379.6,412.2 381.9,416.95 384.2,421.29 386.5,426.41 388.8,431.93 391.2,434.1 392.9,436.22 394.6,438.18 396.9,439.87 399.2,440.75 401.5,441.37 403.8,443.48 406.15,443.06 408.5,443.6 408.5,444.4" fill="#8a8a8a"/>
<polyline points="336.9,438.5 341.5,436.2 346.2,433.9 350.8,431.6 355.4,428.1 358.8,424.7 362.3,420.1 364.6,416.6 366.9,413.1 370.4,409.7 373.8,408.5 377.3,408.5 379.6,411 381.9,415.7 384.2,421.4 386.5,426 388.8,430.7 391.2,434.1 394.6,437.6 399.2,440.8 405,443" fill="none" stroke="#111" stroke-width="1.4" stroke-dasharray="5 2 1.5 2"/>
<polyline points="336.9,441.5 338.62,441.92 340.35,440.76 342.07,440.93 343.8,440.01 345.55,440.56 347.3,439.14 349.05,438.48 350.8,438.07 352.52,438.25 354.25,437.3 355.98,436.15 357.7,436.01 359.43,435.54 361.15,433.88 362.88,434.71 364.6,433.87 366.53,432.92 368.47,430.63 370.4,429.58 372.7,428.56 375,428.24 376.75,426.75 378.5,425.88 380.2,424.01 381.9,422.81 383.65,422.86 385.4,421.27 387.7,419.97 390,418.51 391.75,417.94 393.5,416.95 395.2,416.85 396.9,415.44 399.2,414.81 401.5,413.5 403.25,412.49 405,412.62 407.3,409.88 409.6,409.5 411.9,409.86 414.2,411.59 416.5,414.49 418.8,419.08 421.2,424.81 423.5,428.28 425.2,431.4 426.9,433.61 428.65,434.93 430.4,437.34 432.1,437.54 433.8,439.01 436.15,441.56 438.5,442.29 440.8,443.08 443.1,443.34 445.4,444.1 447.7,444.1 449.52,443.24 451.35,443.46 453.18,444.1 455,444" fill="none" stroke="#111" stroke-width="1.4" stroke-linejoin="round"/>
<path d="M336.3 408V444.4H518" fill="none" stroke="#111" stroke-width="1.5"/>
<rect x="293.5" y="465.8" width="30" height="8.4" fill="#8a8a8a"/>
<text x="329.8" y="474.4" font-size="10" textLength="19.2" lengthAdjust="spacingAndGlyphs">PBS</text>
<line x1="362.5" y1="471.2" x2="393.5" y2="471.2" stroke="#111" stroke-width="1.3"/>
<text x="399.3" y="474.4" font-size="10" textLength="38.2" lengthAdjust="spacingAndGlyphs">Poly(I:C)</text>
<line x1="450.5" y1="470.9" x2="481.5" y2="470.9" stroke="#111" stroke-width="1.8" stroke-dasharray="7 1.8 2.8 1.8"/>
<text x="485.8" y="474.4" font-size="10" textLength="31.8" lengthAdjust="spacingAndGlyphs">Isotype</text>
</svg>
</body></html>
